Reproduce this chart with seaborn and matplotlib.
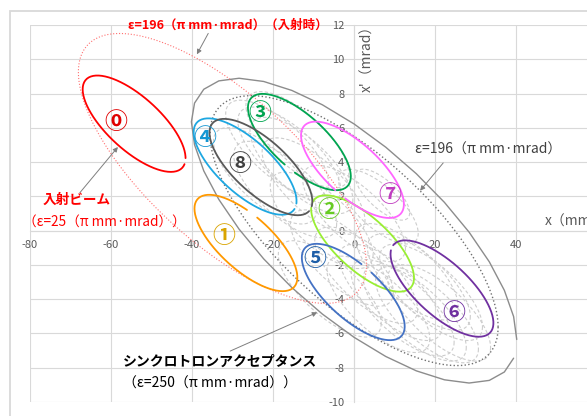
import numpy as np
import matplotlib
matplotlib.use("Agg")
import matplotlib.pyplot as plt
from matplotlib.patches import Rectangle
import seaborn as sns

# Lattice (Twiss) parameters shared by every phase-space ellipse
BETA = 6.45     # m
ALPHA = 1.02

# Injected beam, turns 0..8 (emittance 25 pi mm.mrad)
beam_turns = ["⓪", "①", "②", "③", "④", "⑤", "⑥", "⑦", "⑧"]
beam_eps = 25
beam_cx = [-54.3, -26.7, 2.1, -13.5, -26.9, -0.2, 21.7, -0.4, -23.0]
beam_cy = [6.24, -0.72, -0.75, 5.17, 3.74, -3.58, -3.38, 3.55, 3.71]
beam_phase0 = [0.0, -1.55, -3.10, 1.66, 0.08, -1.41, -3.02, 1.71, 0.16]
beam_colors = ["#FF0000", "#FF9900", "#99EE33", "#00A550", "#1EA7E1",
               "#4472C4", "#7030A0", "#FF66FF", "#595959"]
label_colors = ["#E00000", "#D9A400", "#66CC22", "#00A550", "#1496D2",
                "#1F5FA8", "#7030A0", "#C03CC0", "#404040"]
label_x = [-58.8, -32.1, -6.3, -23.2, -36.8, -9.6, 24.5, 8.9, -28.3]
label_y = [6.30, -0.37, 1.16, 6.84, 5.39, -1.69, -4.84, 2.03, 3.88]

# Later turns (faint)
later_cx = [21, 18, 15, 12, 19, 16, 13, 9, 6, 7, 6, -3, -6, 3, 0, -8,
            -19, -16, -22, -13, -17, -10, -14]
later_cy = [-4.8, -4.9, -4.8, -4.5, -3.6, -3.0, -2.4, -3.6, -4.3, 2.1, 1.4,
            -1.6, -3.4, -2.6, 1.0, 0.6, 4.8, 4.4, 3.2, 3.8, 2.4, 2.6, 5.3]
later_eps = [25, 25, 25, 25, 25, 25, 25, 25, 25, 7, 15, 25, 25, 25, 25, 25,
             25, 25, 25, 25, 25, 25, 25]

# Acceptances
acc_eps = 250
ring_eps = 196
inj_eps = 196
inj_center = (-32.5, 3.63)

x_ticks = [-80, -60, -40, -20, 0, 20, 40]
y_ticks = [-10, -8, -6, -4, -2, 0, 2, 4, 6, 8, 10, 12]


def ellipse(eps, cx, cy, t):
    x = cx + np.sqrt(eps * BETA) * np.cos(t)
    y = cy - np.sqrt(eps / BETA) * (ALPHA * np.cos(t) + np.sin(t))
    return x, y


sns.set_theme(style="white")
plt.rcParams["font.family"] = ["Noto Sans CJK JP", "DejaVu Sans"]
plt.rcParams["axes.unicode_minus"] = False

fig = plt.figure(figsize=(5.87, 4.16), dpi=100)
ax = fig.add_axes([30 / 587, 14 / 416, 557 / 587, 377 / 416])
ax.set_xlim(-80, 57.5)
ax.set_ylim(-10, 12)

# chart frame
fig.patches.append(Rectangle((9.5 / 587, -0.2), 1.2, 0.2 + 1 - 11 / 416,
                             transform=fig.transFigure, fill=False,
                             edgecolor="#D9D9D9", lw=1.3))

t_full = np.linspace(0, 2 * np.pi, 200)

# faint later turns
for cx, cy, e in zip(later_cx, later_cy, later_eps):
    xs, ys = ellipse(e, cx, cy, t_full)
    sns.lineplot(x=xs, y=ys, sort=False, estimator=None, color="#CDCDCD",
                 lw=0.8, ax=ax, zorder=2)
    ax.lines[-1].set_dashes([3, 2])

# ring acceptance (coarse polygon, open at the start point)
t_acc = np.linspace(2 * np.pi / 32, 2 * np.pi, 32)
xs, ys = ellipse(acc_eps, 0, 0, t_acc)
sns.lineplot(x=xs, y=ys, sort=False, estimator=None, color="#8C8C8C",
             lw=1.0, ax=ax, zorder=3)

# ring emittance 196
xs, ys = ellipse(ring_eps, 0, 0, t_full)
sns.lineplot(x=xs, y=ys, sort=False, estimator=None, color="#707070",
             lw=1.0, ax=ax, zorder=3)
ax.lines[-1].set_linestyle(":")

# acceptance at injection (bumped orbit)
xs, ys = ellipse(inj_eps, inj_center[0], inj_center[1], t_full)
sns.lineplot(x=xs, y=ys, sort=False, estimator=None, color="#FF7070",
             lw=0.8, ax=ax, zorder=3)
ax.lines[-1].set_linestyle(":")

# beam ellipses per turn
for i in range(len(beam_turns)):
    t = np.linspace(beam_phase0[i] + 0.2, beam_phase0[i] + 2 * np.pi, 150)
    xs, ys = ellipse(beam_eps, beam_cx[i], beam_cy[i], t)
    sns.lineplot(x=xs, y=ys, sort=False, estimator=None,
                 color=beam_colors[i], lw=1.3, ax=ax, zorder=4)
    ax.text(label_x[i], label_y[i], beam_turns[i], color=label_colors[i],
            fontsize=16.5, fontweight="bold", ha="center", va="center",
            zorder=6)

# axes crossing at the origin
ax.spines["left"].set_position(("data", 0))
ax.spines["bottom"].set_position(("data", 0))
for s in ["left", "bottom"]:
    ax.spines[s].set_color("#D9D9D9")
    ax.spines[s].set_linewidth(0.8)
for s in ["top", "right"]:
    ax.spines[s].set_visible(False)
ax.set_xticks(x_ticks)
ax.set_xticklabels([str(v) for v in x_ticks])
ax.set_yticks(y_ticks)
ax.set_yticklabels([str(v) for v in y_ticks])
ax.tick_params(length=0, pad=7, labelsize=8, labelcolor="#595959")
ax.grid(True, color="#D9D9D9", lw=0.8)
ax.set_axisbelow(True)
ax.set_xlabel("")
ax.set_ylabel("")

ax.text(47.2, 0.52, "x（mm）", color="#595959", fontsize=10,
        ha="left", va="center", clip_on=False)
ax.text(3.2, 10.23, "x'（mrad）", color="#595959", fontsize=10,
        rotation=90, ha="center", va="center")

arrow = dict(arrowstyle="-|>", color="#7F7F7F", lw=0.7, mutation_scale=7,
             shrinkA=0, shrinkB=0)

ax.text(-55.8, 11.98, "ε=196（π mm·mrad）（入射時）", color="#FF0000",
        fontsize=9.0, fontweight="bold", ha="left", va="center", zorder=7)
ax.annotate("", xy=(-38.8, 10.29), xytext=(-36.0, 11.51), arrowprops=arrow)

ax.text(15.1, 4.71, "ε=196（π mm·mrad）", color="#404040", fontsize=10,
        ha="left", va="center", zorder=7)
ax.annotate("", xy=(16.3, 2.33), xytext=(22.0, 3.95), arrowprops=arrow)

ax.text(-76.8, 1.80, "入射ビーム", color="#FF0000", fontsize=9.8,
        fontweight="bold", ha="left", va="center", zorder=7)
ax.text(-81.7, 0.52, "（ε=25（π mm·mrad））", color="#FF0000", fontsize=9.8,
        ha="left", va="center", zorder=7, clip_on=False)
ax.annotate("", xy=(-58.3, 4.88), xytext=(-67.7, 2.21), arrowprops=arrow)

ax.text(-57.0, -7.67, "シンクロトロンアクセプタンス", color="#000000",
        fontsize=10, fontweight="bold", ha="left", va="center", zorder=7)
ax.text(-57.0, -8.95, "（ε=250（π mm·mrad））", color="#000000",
        fontsize=10, ha="left", va="center", zorder=7)
ax.annotate("", xy=(-9.1, -4.77), xytext=(-30.6, -7.03), arrowprops=arrow)

fig.savefig("out.png", dpi=100, facecolor="white")
